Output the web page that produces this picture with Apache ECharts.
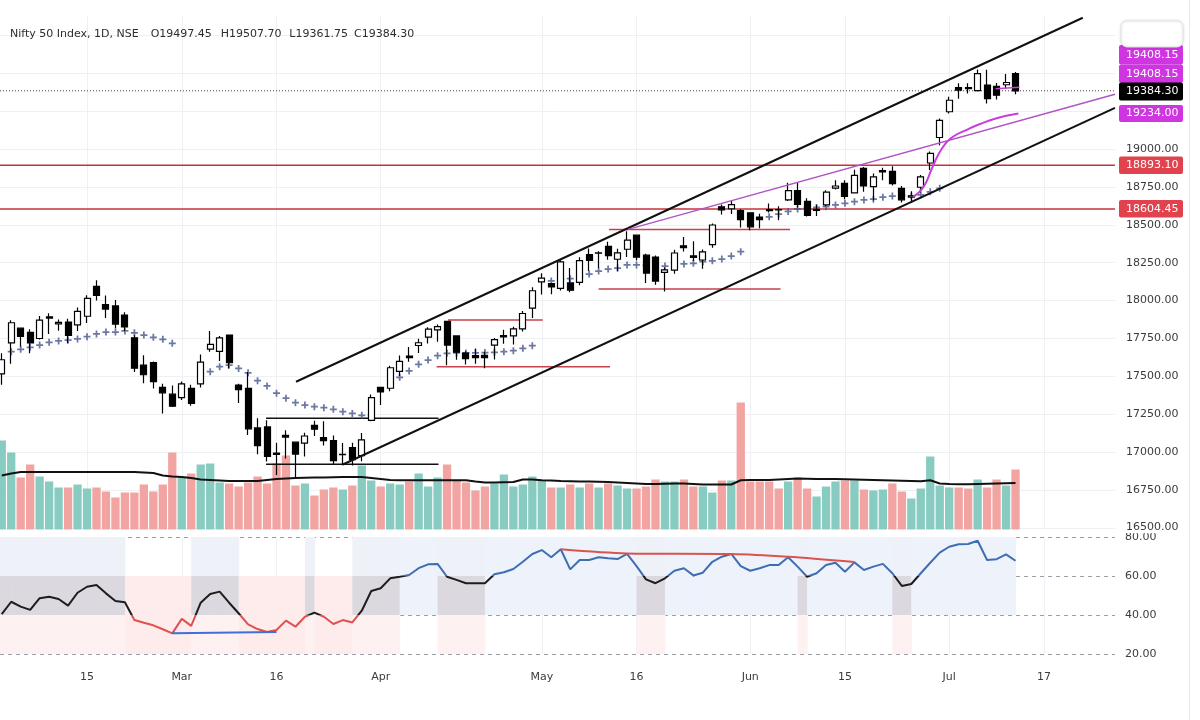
<!DOCTYPE html>
<html><head><meta charset="utf-8">
<script src="https://cdn.jsdelivr.net/npm/echarts@6/dist/echarts.min.js"></script>
<style>html,body{margin:0;padding:0;background:#fff}#c{width:1200px;height:720px}</style>
</head><body><div id="c"></div>
<script>
// ---------------- DATA ----------------
const DATES = [
 '2023-02-02','2023-02-03','2023-02-06','2023-02-07','2023-02-08','2023-02-09','2023-02-10','2023-02-13','2023-02-14','2023-02-15',
 '2023-02-16','2023-02-17','2023-02-20','2023-02-21','2023-02-22','2023-02-23','2023-02-24','2023-02-27','2023-02-28','2023-03-01',
 '2023-03-02','2023-03-03','2023-03-06','2023-03-08','2023-03-09','2023-03-10','2023-03-13','2023-03-14','2023-03-15','2023-03-16',
 '2023-03-17','2023-03-20','2023-03-21','2023-03-22','2023-03-23','2023-03-24','2023-03-27','2023-03-28','2023-03-29','2023-03-31',
 '2023-04-03','2023-04-05','2023-04-06','2023-04-10','2023-04-11','2023-04-12','2023-04-13','2023-04-17','2023-04-18','2023-04-19',
 '2023-04-20','2023-04-21','2023-04-24','2023-04-25','2023-04-26','2023-04-27','2023-04-28','2023-05-02','2023-05-03','2023-05-04',
 '2023-05-05','2023-05-08','2023-05-09','2023-05-10','2023-05-11','2023-05-12','2023-05-15','2023-05-16','2023-05-17','2023-05-18',
 '2023-05-19','2023-05-22','2023-05-23','2023-05-24','2023-05-25','2023-05-26','2023-05-29','2023-05-30','2023-05-31','2023-06-01',
 '2023-06-02','2023-06-05','2023-06-06','2023-06-07','2023-06-08','2023-06-09','2023-06-12','2023-06-13','2023-06-14','2023-06-15',
 '2023-06-16','2023-06-19','2023-06-20','2023-06-21','2023-06-22','2023-06-23','2023-06-26','2023-06-27','2023-06-28','2023-06-30',
 '2023-07-03','2023-07-04','2023-07-05','2023-07-06','2023-07-07','2023-07-10','2023-07-11','2023-07-12'];

const OPEN = [17517,17721,17818,17790,17750,17885,17847,17859,17840,17897,18094,17974,17965,17905,17755,17574,17591,17428,17383,17360,
 17421,17451,17680,17665,17773,17443,17421,17160,17167,16994,17111,17066,17060,17177,17097,17077,16984,17031,16977,17210,
 17428,17422,17533,17634,17704,17759,17807,17863,17767,17653,17638,17639,17707,17761,17767,17813,17950,18124,18113,18081,
 18117,18120,18303,18313,18358,18273,18339,18432,18300,18287,18186,18201,18362,18295,18268,18369,18619,18606,18594,18579,
 18551,18600,18600,18665,18725,18655,18595,18631,18742,18774,18711,18873,18752,18849,18853,18741,18682,18748,18908,19076,
 19246,19406,19405,19385,19422,19414,19424,19497];
const HIGH = [17653,17870,17823,17811,17898,17916,17876,17880,17954,18035,18134,18034,18004,17924,17772,17640,17599,17452,17440,17467,
 17445,17644,17800,17766,17773,17451,17529,17224,17211,17062,17145,17066,17128,17207,17205,17110,17061,17062,17126,17381,
 17428,17570,17638,17694,17748,17825,17842,17863,17767,17666,17684,17663,17754,17808,17827,17932,18089,18180,18116,18267,
 18216,18286,18344,18326,18389,18342,18458,18432,18309,18297,18218,18336,18419,18392,18338,18508,18634,18662,18603,18580,
 18573,18640,18622,18778,18777,18676,18633,18728,18794,18794,18864,18881,18839,18876,18886,18756,18722,18829,18983,19201,
 19345,19434,19434,19524,19523,19435,19495,19508];
const LOW = [17445,17584,17698,17652,17744,17779,17801,17719,17800,17853,18000,17885,17818,17800,17529,17455,17421,17255,17299,17345,
 17306,17427,17663,17602,17553,17324,17113,16987,16938,16850,16958,16828,16971,17107,17045,16917,16914,16913,16941,17204,
 17312,17402,17503,17597,17655,17717,17729,17574,17610,17579,17584,17554,17612,17716,17711,17797,17885,18040,18042,18066,
 18055,18101,18195,18216,18270,18194,18287,18264,18116,18104,18060,18178,18324,18262,18210,18348,18568,18572,18483,18464,
 18478,18582,18531,18657,18615,18555,18559,18623,18733,18669,18710,18719,18660,18794,18759,18647,18646,18714,18861,19025,
 19234,19331,19366,19379,19300,19327,19400,19362];
const CLOSE = [17610,17854,17764,17721,17871,17893,17856,17771,17929,18015,18035,17944,17845,17826,17554,17511,17465,17392,17304,17451,
 17322,17594,17711,17754,17590,17413,17154,17043,16972,16985,17100,16988,17107,17152,17077,16945,16986,16951,17081,17360,
 17398,17557,17599,17624,17722,17812,17828,17707,17660,17618,17624,17624,17743,17769,17813,17915,18065,18148,18090,18256,
 18069,18264,18266,18315,18297,18315,18399,18286,18182,18129,18203,18314,18349,18285,18321,18499,18599,18633,18534,18487,
 18534,18594,18599,18726,18635,18563,18602,18716,18756,18688,18826,18756,18817,18857,18772,18665,18691,18817,18972,19189,
 19322,19389,19398,19497,19332,19355,19439,19384.30];

// volume (millions) and its moving average
const VOLUME = [356,308,208,260,212,192,168,168,180,164, 168,152,128,148,148,180,152,180,308,208,
 224,260,264,188,184,172,188,212,184,264, 296,176,184,136,160,168,160,176,256,196,
 172,184,180,192,224,172,208,260,196,188, 156,172,184,220,172,180,212,196,168,168,
 180,168,184,168,184,176,164,164,172,200, 192,192,200,172,172,148,196,196,508,192,
 192,192,164,192,208,164,132,172,192,196, 196,160,156,160,184,152,124,164,292,176,
 168,168,164,200,168,200,176,240];
const VOLUME_MA = [216,224,230,230,230,230,230,230,230,230, 230,230,230,230,230,228,226,216,212,210,
 206,200,198,196,194,194,194,194,198,202, 204,206,207,208,208,209,210,210,210,206,
 202,198,197,197,197,197,197,197,197,197, 192,188,188,189,190,200,200,197,196,194,
 193,192,192,191,190,188,186,184,182,182, 183,184,184,182,180,180,180,180,197,198,
 198,198,200,202,204,203,202,202,202,201, 200,199,198,197,196,195,194,193,197,184,
 182,181,181,182,183,184,185,186];

// RSI
const RSI = [40.5,46.8,44.3,42.6,48.6,49.4,48.2,44.8,51.4,54.5, 55.4,51.1,47.2,46.5,37.4,36.0,34.7,32.7,30.6,38.0,
 34.4,46.3,50.8,52.0,46.3,40.9,35.2,32.8,31.3,32.3, 37.1,34.0,39.1,41.2,39.1,35.4,37.4,36.2,42.2,52.3,
 53.7,58.8,59.6,60.5,64.0,66.0,66.2,59.6,58.0,56.3, 56.3,56.3,60.9,61.9,63.6,67.3,71.3,73.3,69.6,73.7,
 63.4,68.2,68.2,69.6,69.1,68.7,71.3,65.1,58.3,56.3, 58.8,62.7,64.0,60.3,61.7,67.3,69.9,71.3,65.1,62.7,
 64.0,65.6,65.6,69.6,64.8,59.6,61.4,65.6,66.8,62.2, 67.0,63.1,64.8,66.2,61.4,54.9,55.9,61.4,66.8,72.0,
 75.0,76.3,76.4,78.1,68.2,68.6,71.1,67.8];
const RSI_DIV_BULL = [[18,30.6],[29,31.3]];
const RSI_DIV_BEAR = [[59,73.7],[66,71.6],[77,71.3],[83,69.9],[90,67.2]];

// trailing indicator plotted as crosses [barIndex, price]
const TRAIL = [[1,17663],[2,17679],[3,17692],[4,17707],[5,17725],[6,17734],[7,17740],[8,17747],[9,17762],[10,17780],
 [11,17793],[12,17793],[13,17800],[14,17788],[15,17773],[16,17758],[17,17745],[18,17718],[19,17437],
 [22,17531],[23,17564],[24,17575],[25,17553],[26,17524],[27,17472],[28,17437],[29,17389],[30,17356],[31,17327],
 [32,17311],[33,17300],[34,17294],[35,17283],[36,17267],[37,17256],[38,17243],[39,17243],
 [42,17494],[43,17536],[44,17580],[45,17608],[46,17637],[47,17652],[48,17655],[49,17655],[50,17656],[51,17657],
 [52,17659],[53,17663],[54,17670],[55,17685],[56,17703],
 [58,18130],[59,18142],[60,18145],[61,18158],[62,18175],[63,18195],[64,18208],[65,18215],[66,18235],[67,18235],
 [68,18232],[69,18229],[70,18228],[71,18235],[72,18242],[73,18246],[74,18257],[75,18263],[76,18274],[77,18294],[78,18323],
 [81,18553],[82,18570],[83,18588],[84,18605],[85,18610],[86,18615],[87,18620],[88,18631],[89,18642],[90,18653],
 [91,18664],[92,18669],[93,18682],[94,18690],[95,18692],[96,18690],[97,18697],[98,18718],[99,18741]];

// drawings [barIndex, price]
const CHANNEL_UPPER = [[31.06,17465],[114.1,19866]];
const CHANNEL_LOWER = [[36.0,16919],[117.5,19272]];
const BOX_TOP = [[27.9,17224],[46.1,17224]];
const BOX_BOTTOM = [[27.9,16920],[46.1,16920]];
const RES_SHORT = [
 [[47.1,17872],[57.1,17872]],
 [[45.9,17564],[64.2,17564]],
 [[64.1,18470],[83.2,18470]],
 [[63.0,18077],[82.2,18077]]];
const LEVELS = [18893.10, 18604.45];
const LAST_CLOSE = 19384.30;
const TREND_PURPLE = [[66.1,18470],[117.5,19362]];
const ARC_MAGENTA = [[96.2,18685],[97.3,18751],[98.25,18883],[99.27,19007],[100.4,19081],[101.8,19125],[103.25,19165],[105,19203],[107.3,19234]];
const MAG_SHORT = [[104.9,19398],[107.4,19408.15]];

// tick labels
const PRICE_TICKS_SHOWN = [16750, 19000];
const DATE_LABEL_IDX = [9,19,29,40,57,67,79,89,100,110];
const DATE_LABEL_TXT = ['15','Mar','16','Apr','May','16','Jun','15','Jul','17'];
const TITLE = 'Nifty 50 Index, 1D, NSE';
const OHLC_TXT = ['O19497.45','H19507.70','L19361.75','C19384.30'];

// ---------------- CHART ----------------
const X_MIN = -0.184, X_MAX = 117.5;
const FONT = '"DejaVu Sans", Verdana, sans-serif';
const TXT = '#3c3c3c';
const TEAL = '#88cbc0', PINK = '#f1a4a1';
const MAG = '#cf35e0', REDTAG = '#e0434e', REDLINE = '#c4333c';

const chart = echarts.init(document.getElementById('c'));

function seg(pts, color, width, type, z, smooth) {
  return {type:'line', xAxisIndex:0, yAxisIndex:0, data:pts, symbol:'none', silent:true, smooth:!!smooth,
    lineStyle:{color, width, type: type||'solid'}, z: z||4, animation:false};
}

const series = [];
// volume
series.push({type:'bar', xAxisIndex:1, yAxisIndex:1, barWidth:8.3, z:1, silent:true,
  data: VOLUME.map((v,i)=>({value:[i,v], itemStyle:{color: CLOSE[i]>=OPEN[i]?TEAL:PINK}}))});
series.push({type:'line', xAxisIndex:1, yAxisIndex:1, data: VOLUME_MA.map((v,i)=>[i,v]), symbol:'none', silent:true,
  lineStyle:{color:'#111', width:2}, z:2});
// levels
LEVELS.forEach(l => series.push(seg([[X_MIN,l],[X_MAX,l]], REDLINE, 1.6, 'solid', 3)));
series.push(seg([[X_MIN,LAST_CLOSE],[X_MAX,LAST_CLOSE]], '#444', 1, [1,2], 3));
RES_SHORT.forEach(s => series.push(seg(s, '#c9414a', 1.5, 'solid', 3)));
series.push(seg(BOX_TOP, '#111', 1.5, 'solid', 3));
series.push(seg(BOX_BOTTOM, '#111', 1.5, 'solid', 3));
series.push(seg(CHANNEL_UPPER, '#111', 2, 'solid', 6));
series.push(seg(CHANNEL_LOWER, '#111', 2, 'solid', 6));
series.push(seg(TREND_PURPLE, '#b155c6', 1.5, 'solid', 6));
series.push(seg(ARC_MAGENTA, '#c83ddb', 2, 'solid', 6, 0.4));
series.push(seg(MAG_SHORT, '#c83ddb', 1.5, 'solid', 6));
// trail crosses
series.push({type:'scatter', xAxisIndex:0, yAxisIndex:0, data:TRAIL, silent:true, z:4,
  symbol:'path://M3,0H5V3H8V5H5V8H3V5H0V3H3Z', symbolSize:7, itemStyle:{color:'#46568c'}});
// candles
series.push({type:'candlestick', xAxisIndex:0, yAxisIndex:0, barWidth:6.5, z:5, silent:true,
  data: OPEN.map((o,i)=>[i,o,CLOSE[i],LOW[i],HIGH[i]]), encode:{x:0, y:[1,2,3,4]},
  itemStyle:{color:'#ffffff', color0:'#000000', borderColor:'#000000', borderColor0:'#000000', borderWidth:1.2}});
// RSI background
series.push({type:'custom', xAxisIndex:2, yAxisIndex:2, z:0, silent:true, data: RSI.map((r,i)=>[i,r]),
  encode:{x:0,y:1},
  renderItem(params, api) {
    const i = api.value(0), r = api.value(1);
    const xl = api.coord([i-1,80])[0], xr = api.coord([i,80])[0];
    const y = v => api.coord([i,v])[1];
    const BULL='#eef2fb', NHI='#eef1f8', NMID='#dbd9df', NLO='#fdf2f1', BEAR='#fdeceb';
    const cols = r>=60 ? [null,BULL,BULL] : r>=40 ? [NLO,NMID,NHI] : [BEAR,BEAR,null];
    const bands = [[y(40),y(20)],[y(60),y(40)],[y(80),y(60)]];
    const children = [];
    bands.forEach((b,k)=>{ if (cols[k]) children.push({type:'rect', shape:{x:xl, y:b[0], width:xr-xl+0.6, height:b[1]-b[0]}, style:{fill:cols[k]}}); });
    return {type:'group', children};
  }});
// RSI line
const rsiIndex = series.length;
series.push({type:'line', xAxisIndex:2, yAxisIndex:2, data: RSI.map((r,i)=>[i,r]), symbol:'none', silent:true,
  lineStyle:{width:2}, z:4});
series.push({type:'line', xAxisIndex:2, yAxisIndex:2, data: RSI_DIV_BULL, symbol:'none', silent:true, lineStyle:{color:'#3f6fd8', width:2}, z:5});
series.push({type:'line', xAxisIndex:2, yAxisIndex:2, data: RSI_DIV_BEAR, symbol:'none', silent:true, smooth:0.3, lineStyle:{color:'#d9534f', width:2}, z:5});

function xAx(k) {
  return {type:'value', gridIndex:k, min:X_MIN, max:X_MAX,
    axisLine:{show:false}, axisTick:{show:false, customValues:DATE_LABEL_IDX},
    axisLabel:{show:k===2, customValues:DATE_LABEL_IDX, margin:18, color:TXT, fontSize:11, fontFamily:FONT,
      formatter: v => { const j = DATE_LABEL_IDX.indexOf(Math.round(v)); return j>=0 ? DATE_LABEL_TXT[j] : ''; }},
    splitLine:{show:k!==1, lineStyle:{color:'#eef0f4', width:1}}};
}

// header as title components
const TITLE_X = [10, 150.7, 220.7, 289.3, 354];
const titles = [TITLE].concat(OHLC_TXT).map((t,k)=>({text:t, left:TITLE_X[k], top:29, padding:0,
  textStyle:{fontSize:11, fontWeight:'normal', fontFamily:FONT, color:'#2e2e2e'}}));

const option = {
  animation:false,
  backgroundColor:'#ffffff',
  title: titles,
  grid:[
    {left:0, right:85, top:16.4, height:511.6},
    {left:0, right:85, top:400, height:129.5},
    {left:0, right:85, top:537, height:117}
  ],
  xAxis:[xAx(0), xAx(1), xAx(2)],
  yAxis:[
    {type:'value', gridIndex:0, position:'right', min:16500, max:19875, interval:250,
      axisLine:{show:false}, axisTick:{show:false},
      axisLabel:{margin:11, color:TXT, fontSize:11, fontFamily:FONT,
        formatter: v => (v>=PRICE_TICKS_SHOWN[0] && v<=PRICE_TICKS_SHOWN[1]) ? v.toFixed(2) : ''},
      splitLine:{show:true, showMaxLine:false, lineStyle:{color:'#eef0f4'}}},
    {type:'value', gridIndex:1, min:0, max:518, show:false},
    {type:'value', gridIndex:2, position:'right', min:20, max:80, interval:20,
      axisLine:{show:false}, axisTick:{show:false},
      axisLabel:{margin:10, color:TXT, fontSize:11, fontFamily:FONT, formatter: v => v.toFixed(2)},
      splitLine:{show:true, lineStyle:{color:'#9a9da5', type:[4,4], width:1}}}
  ],
  visualMap:[{type:'piecewise', show:false, seriesIndex:rsiIndex, dimension:1,
    pieces:[{lt:40, color:'#e0504f'},{gte:40, lt:60, color:'#1d1d1d'},{gte:60, color:'#3f6db3'}]}],
  series,
  graphic: buildGraphic()
};

function buildGraphic() {
  const g = [];
  const font11 = '11px ' + FONT;
  // partially hidden bottom price label
  g.push({type:'text', x:1126, y:527, silent:true, z:9, style:{text:'16500.00', font:font11, fill:TXT, verticalAlign:'middle', textVerticalAlign:'middle'}});
  g.push({type:'rect', silent:true, z:9, shape:{x:1118, y:530.5, width:68, height:2.8}, style:{fill:'#ffffff'}});
  // price tags on the axis
  const tags = [
    ['19408.15', 45, 64.5, MAG], ['19408.15', 64.5, 83, MAG], ['19384.30', 82.5, 100.5, '#000000'],
    ['19234.00', 105, 122, MAG], ['18893.10', 156.5, 174, REDTAG], ['18604.45', 200, 217.5, REDTAG]];
  tags.forEach(t => {
    g.push({type:'rect', silent:true, shape:{x:1119, y:t[1], width:64, height:t[2]-t[1], r:2}, style:{fill:t[3]}, z:10});
    g.push({type:'text', silent:true, x:1126, y:(t[1]+t[2])/2, style:{text:t[0], font:font11, fill:'#ffffff', verticalAlign:'middle', textVerticalAlign:'middle'}, z:11});
  });
  g.push({type:'rect', silent:true, shape:{x:1121, y:21, width:62, height:26, r:6},
    style:{fill:'#ffffff', stroke:'#e2e2e2', lineWidth:1, shadowBlur:3, shadowColor:'rgba(0,0,0,0.12)'}, z:12});
  g.push({type:'line', silent:true, shape:{x1:1189.5, y1:0, x2:1189.5, y2:720}, style:{stroke:'#e8e8e8', lineWidth:1}});
  return g;
}

chart.setOption(option);
</script>
</body></html>
